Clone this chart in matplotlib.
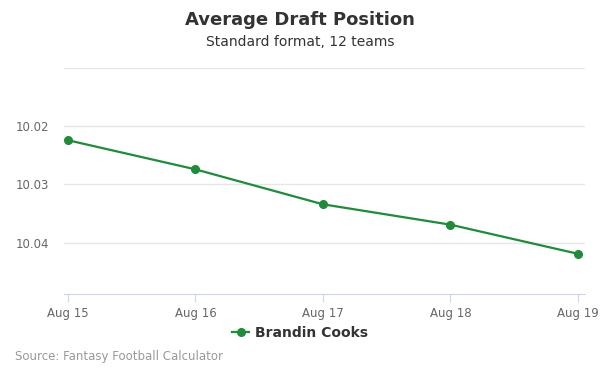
import matplotlib
matplotlib.use("Agg")
import matplotlib.pyplot as plt
from matplotlib.lines import Line2D

dates = ["Aug 15", "Aug 16", "Aug 17", "Aug 18", "Aug 19"]
adp = [10.0224, 10.0274, 10.0334, 10.0369, 10.0419]
series_name = "Brandin Cooks"
y_ticks = [10.01, 10.02, 10.03, 10.04]
y_labels = ["", "10.02", "10.03", "10.04"]

color = "#1f8b3b"
fig = plt.figure(figsize=(6, 3.75), dpi=100)
ax = fig.add_axes([64/600, 1-294/375, (585-64)/600, (294-68)/375])

x = list(range(len(dates)))
ax.plot(x, adp, color=color, lw=1.6, marker="o", ms=5.5, zorder=3, clip_on=False)
ax.set_xlim(-0.031, 4.055)
ax.set_ylim(10.0488, 10.01)
ax.set_yticks(y_ticks)
ax.set_yticklabels(y_labels)
ax.set_xticks(x)
ax.set_xticklabels(dates)
ax.grid(axis="y", color="#e6e6e6", lw=1)
ax.set_axisbelow(True)
for s in ["top", "right", "left"]:
    ax.spines[s].set_visible(False)
ax.spines["bottom"].set_color("#ccd6eb")
ax.tick_params(axis="y", length=0, labelsize=8.5, labelcolor="#666666", pad=10.5)
ax.tick_params(axis="x", length=6, color="#ccd6eb", labelsize=8.5, labelcolor="#666666", pad=3)

fig.text(0.5, 1-20/375, "Average Draft Position", ha="center", va="center",
         fontsize=13, fontweight="bold", color="#333333")
fig.text(0.5, 1-41.5/375, "Standard format, 12 teams", ha="center", va="center",
         fontsize=10, color="#333333")
fig.text(15/600, 1-356.5/375, "Source: Fantasy Football Calculator", ha="left", va="center",
         fontsize=8.5, color="#999999")

handle = Line2D([], [], color=color, lw=1.6, marker="o", ms=5.5)
leg = fig.legend([handle], [series_name], loc="center", bbox_to_anchor=(300/600, 1-333/375),
                 frameon=False, handlelength=1.2, handletextpad=0.4,
                 prop={"weight": "bold", "size": 10})
for t in leg.get_texts():
    t.set_color("#333333")

fig.savefig("out.png", dpi=100)
